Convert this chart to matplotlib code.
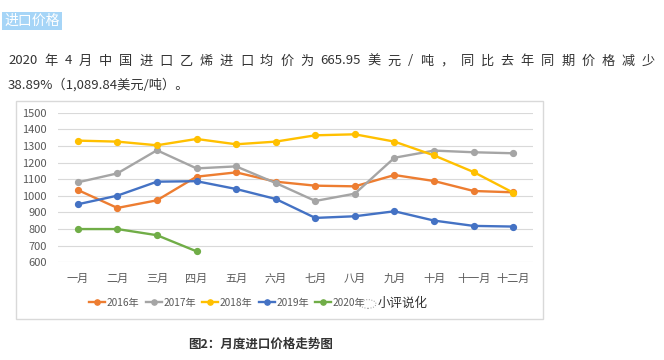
import matplotlib.pyplot as plt
from matplotlib.patches import Rectangle, Circle

plt.rcParams['font.family'] = ['Noto Sans CJK SC', 'DejaVu Sans']

# data
months = ['一月', '二月', '三月', '四月', '五月', '六月',
          '七月', '八月', '九月', '十月', '十一月', '十二月']
y2016 = [1035, 927, 973, 1115, 1141, 1085, 1061, 1057, 1125, 1089, 1029, 1021]
y2017 = [1081, 1135, 1274, 1165, 1177, 1077, 969, 1013, 1229, 1272, 1262, 1256]
y2018 = [1332, 1326, 1304, 1342, 1310, 1326, 1364, 1370, 1326, 1243, 1143, 1019]
y2019 = [949, 1001, 1085, 1088, 1041, 981, 867, 877, 907, 851, 819, 815]
y2020 = [800, 800, 763, 666]
series = [('2016年', y2016, '#ED7D31'),
          ('2017年', y2017, '#A5A5A5'),
          ('2018年', y2018, '#FFC000'),
          ('2019年', y2019, '#4472C4'),
          ('2020年', y2020, '#70AD47')]

line1 = '2020 年 4 月 中 国 进 口 乙 烯 进 口 均 价 为 665.95 美 元 / 吨 ， 同 比 去 年 同 期 价 格 减 少'
line2 = '38.89%（1,089.84美元/吨）。'

W, H = 664, 360
fig = plt.figure(figsize=(W / 100, H / 100), dpi=100)

# header and paragraph
fig.text(4 / W, 1 - 21 / H, '进口价格', fontsize=10, color='white', va='center',
         bbox=dict(facecolor='#A6D5F7', edgecolor='none', pad=1.5))

# first line is justified: spread the words between 8 and 655 px
renderer = fig.canvas.get_renderer()
words = line1.split(' ')
txts = [fig.text(0, 1 - 61 / H, w, fontsize=9.5, color='#333333', va='center')
        for w in words]
widths = [t.get_window_extent(renderer).width for t in txts]
gap = (647 - sum(widths)) / (len(words) - 1)
xpos = 8
for t, w in zip(txts, widths):
    t.set_x(xpos / W)
    xpos += w + gap
fig.text(8 / W, 1 - 85 / H, line2, fontsize=9.5, color='#333333', va='center')

# chart frame
fig.patches.append(Rectangle((16 / W, 1 - 319 / H), 527 / W, 218 / H,
                             transform=fig.transFigure, fill=False,
                             edgecolor='#D9D9D9', lw=1))

ax = fig.add_axes([58 / W, 1 - 262.3 / H, 475 / W, 149.6 / H])
x = list(range(len(months)))
for name, vals, c in series:
    ax.plot(x[:len(vals)], vals, color=c, lw=1.7, marker='o', ms=4.2,
            label=name, clip_on=False)

ax.set_xlim(-0.5, 11.5)
ax.set_ylim(600, 1500)
ax.set_yticks(range(600, 1501, 100))
ax.set_xticks(x)
ax.set_xticklabels(months)
ax.tick_params(length=0, labelsize=8, labelcolor='#595959')
ax.tick_params(axis='x', pad=8)
ax.tick_params(axis='y', pad=8)
ax.grid(axis='y', color='#D9D9D9', lw=0.8)
ax.set_axisbelow(True)
for s in ax.spines.values():
    s.set_visible(False)

fig.legend(loc='center left', bbox_to_anchor=(84 / W, 1 - 303 / H), ncol=5,
           frameon=False, fontsize=7.3, labelcolor='#595959', handlelength=1.6,
           handletextpad=0.15, columnspacing=0.6, borderpad=0, markerscale=0.9)

# watermark
fig.patches.append(Circle((368 / W, 1 - 304 / H), 8 / W, transform=fig.transFigure,
                          fill=False, edgecolor='#999999', lw=0.7, ls=':'))
fig.text(378 / W, 1 - 303 / H, '小评说化', fontsize=9, color='#333333', va='center')

fig.text(261 / W, 1 - 344 / H, '图2：月度进口价格走势图', fontsize=9,
         fontweight='bold', color='#333333', ha='center', va='center')

fig.savefig('out.png', dpi=100)
